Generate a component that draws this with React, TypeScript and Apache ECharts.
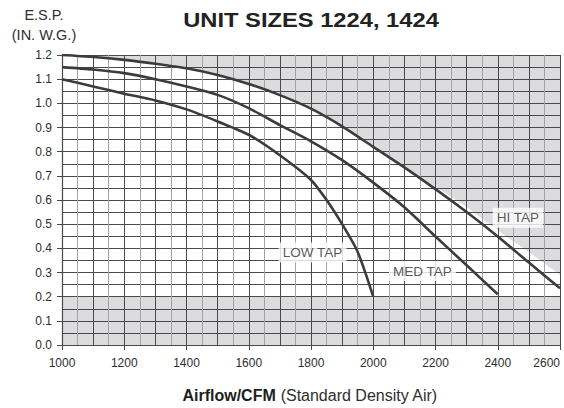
import React, { useEffect, useRef } from "react";
import * as echarts from "echarts";

// ---- data ----
const TITLE = "UNIT SIZES 1224, 1424";
const Y_NAME_1 = "E.S.P.";
const Y_NAME_2 = "(IN. W.G.)";
const X_NAME_BOLD = "Airflow/CFM";
const X_NAME_REST = "(Standard Density Air)";

const X_MIN = 1000;
const X_MAX = 2600;
const Y_MIN = 0;
const Y_MAX = 1.2;
const MIN_ESP = 0.2; // shaded band below this pressure

const HI_X = [1000, 1100, 1200, 1300, 1400, 1500, 1600, 1700, 1800, 1900, 2000, 2100, 2200, 2300, 2400, 2500, 2600];
const HI_Y = [1.2, 1.192, 1.18, 1.164, 1.145, 1.117, 1.08, 1.034, 0.978, 0.905, 0.82, 0.735, 0.645, 0.55, 0.449, 0.341, 0.235];

const MED_X = [1000, 1100, 1200, 1300, 1400, 1500, 1600, 1700, 1800, 1900, 2000, 2100, 2200, 2300, 2400];
const MED_Y = [1.15, 1.14, 1.125, 1.1, 1.07, 1.035, 0.98, 0.91, 0.843, 0.765, 0.672, 0.57, 0.449, 0.33, 0.21];

const LOW_X = [1000, 1100, 1200, 1300, 1400, 1500, 1600, 1700, 1800, 1850, 1900, 1950, 2000];
const LOW_Y = [1.1, 1.07, 1.04, 1.012, 0.975, 0.925, 0.87, 0.785, 0.683, 0.6, 0.5, 0.385, 0.2];

// upper shaded (out of range) region boundary
const LIMIT_X = [1000, 1100, 1200, 1300, 1400, 1500, 1600, 1700, 1800, 1900, 2000, 2100, 2200, 2300, 2400, 2500, 2600];
const LIMIT_Y = [1.2, 1.192, 1.18, 1.164, 1.145, 1.117, 1.08, 1.034, 0.978, 0.905, 0.82, 0.737, 0.655, 0.57, 0.475, 0.385, 0.29];

const TAP_LABELS = ["LOW TAP", "MED TAP", "HI TAP"];
const TAP_LABEL_X = [1805, 2158, 2465];
const TAP_LABEL_Y = [0.383, 0.306, 0.527];

const zip = (xs: number[], ys: number[]) => xs.map((x, i) => [x, ys[i]]);

const FONT = "'Liberation Sans', Arial, Helvetica, sans-serif";
const DARK = "#4a4a4a";
const LIGHT = "#a3a3a3";
const SHADE = "#dcdcde";
const CURVE = "#3c3c3c";
const TEXT = "#2e2e2e";

export default function App() {
  const ref = useRef<HTMLDivElement | null>(null);

  useEffect(() => {
    document.body.style.margin = "0";
    if (!ref.current) return;
    const chart = echarts.init(ref.current, undefined, { renderer: "svg" });

    const curve = (name: string, data: number[][]) => ({
      name,
      type: "line",
      data,
      smooth: 0.25,
      showSymbol: false,
      symbol: "none",
      z: 5,
      lineStyle: { color: CURVE, width: 2.6 },
    });

    const option: any = {
      animation: false,
      backgroundColor: "#ffffff",
      grid: { left: 62, right: 4, top: 55, bottom: 63 },
      xAxis: [
        {
          type: "value",
          min: X_MIN,
          max: X_MAX,
          interval: 200,
          z: 3,
          axisLine: { show: true, lineStyle: { color: DARK, width: 1.2 } },
          axisTick: { show: true, length: 5, inside: false, lineStyle: { color: DARK } },
          axisLabel: {
            color: TEXT,
            fontSize: 12,
            fontFamily: FONT,
            margin: 12,
            alignMaxLabel: "right",
            formatter: (v: number) => String(v),
          },
          splitLine: { show: true, lineStyle: { color: DARK, width: 1 } },
        },
        {
          type: "value",
          min: X_MIN,
          max: X_MAX,
          interval: 100,
          position: "bottom",
          z: 3,
          axisLine: { show: false },
          axisTick: { show: false },
          axisLabel: { show: false },
          splitLine: { show: true, lineStyle: { color: DARK, width: 1 } },
          minorTick: { show: false, splitNumber: 2 },
          minorSplitLine: { show: true, lineStyle: { color: LIGHT, width: 1 } },
        },
      ],
      yAxis: {
        type: "value",
        min: Y_MIN,
        max: Y_MAX,
        interval: 0.1,
        z: 3,
        axisLine: { show: true, lineStyle: { color: DARK, width: 1.2 } },
        axisTick: { show: true, length: 5, inside: false, lineStyle: { color: DARK } },
        axisLabel: {
          color: TEXT,
          fontSize: 12,
          fontFamily: FONT,
          margin: 10,
          formatter: (v: number) => v.toFixed(1),
        },
        splitLine: { show: true, lineStyle: { color: DARK, width: 1 } },
        minorTick: { show: false, splitNumber: 2 },
        minorSplitLine: { show: true, lineStyle: { color: DARK, width: 1 } },
      },
      series: [
        {
          name: "limit",
          type: "line",
          data: zip(LIMIT_X, LIMIT_Y),
          smooth: 0.25,
          showSymbol: false,
          symbol: "none",
          z: 1,
          lineStyle: { width: 0, opacity: 0 },
          areaStyle: { color: SHADE, opacity: 1, origin: "end" },
        },
        {
          name: "min",
          type: "line",
          data: [
            [X_MIN, MIN_ESP],
            [X_MAX, MIN_ESP],
          ],
          showSymbol: false,
          symbol: "none",
          z: 1,
          lineStyle: { width: 0, opacity: 0 },
          areaStyle: { color: SHADE, opacity: 1, origin: "start" },
        },
        curve("HI TAP", zip(HI_X, HI_Y)),
        curve("MED TAP", zip(MED_X, MED_Y)),
        curve("LOW TAP", zip(LOW_X, LOW_Y)),
        {
          name: "labels",
          type: "scatter",
          z: 6,
          symbol: "rect",
          symbolSize: 1,
          itemStyle: { color: "rgba(0,0,0,0)" },
          data: TAP_LABELS.map((t, i) => ({ name: t, value: [TAP_LABEL_X[i], TAP_LABEL_Y[i]] })),
          label: {
            show: true,
            position: "inside",
            formatter: (p: any) => p.name,
            color: TEXT,
            fontSize: 13.5,
            fontFamily: FONT,
            backgroundColor: "#ffffff",
            padding: [3, 4, 3, 4],
          },
        },
      ],
      graphic: [
        {
          type: "text",
          x: 311,
          y: 20,
          scaleX: 1.13,
          style: {
            text: TITLE,
            font: `bold 21px ${FONT}`,
            fill: "#222222",
            textAlign: "center",
            textVerticalAlign: "middle",
          },
        },
        {
          type: "text",
          x: 44,
          y: 15,
          style: {
            text: Y_NAME_1,
            font: `14.5px ${FONT}`,
            fill: TEXT,
            textAlign: "center",
            textVerticalAlign: "middle",
          },
        },
        {
          type: "text",
          x: 44,
          y: 35,
          style: {
            text: Y_NAME_2,
            font: `14.5px ${FONT}`,
            fill: TEXT,
            textAlign: "center",
            textVerticalAlign: "middle",
          },
        },
        {
          type: "text",
          x: 310,
          y: 395,
          style: {
            text: `{a|${X_NAME_BOLD}} {b|${X_NAME_REST}}`,
            textAlign: "center",
            textVerticalAlign: "middle",
            font: `16px ${FONT}`,
            rich: {
              a: { fontWeight: "bold", fontSize: 16, fontFamily: FONT, fill: "#1e1e1e", color: "#1e1e1e" },
              b: { fontWeight: "normal", fontSize: 16, fontFamily: FONT, fill: TEXT, color: TEXT },
            },
            fill: TEXT,
          },
        },
      ],
    };

    chart.setOption(option);
    return () => chart.dispose();
  }, []);

  return <div ref={ref} style={{ width: 564, height: 408 }} />;
}
